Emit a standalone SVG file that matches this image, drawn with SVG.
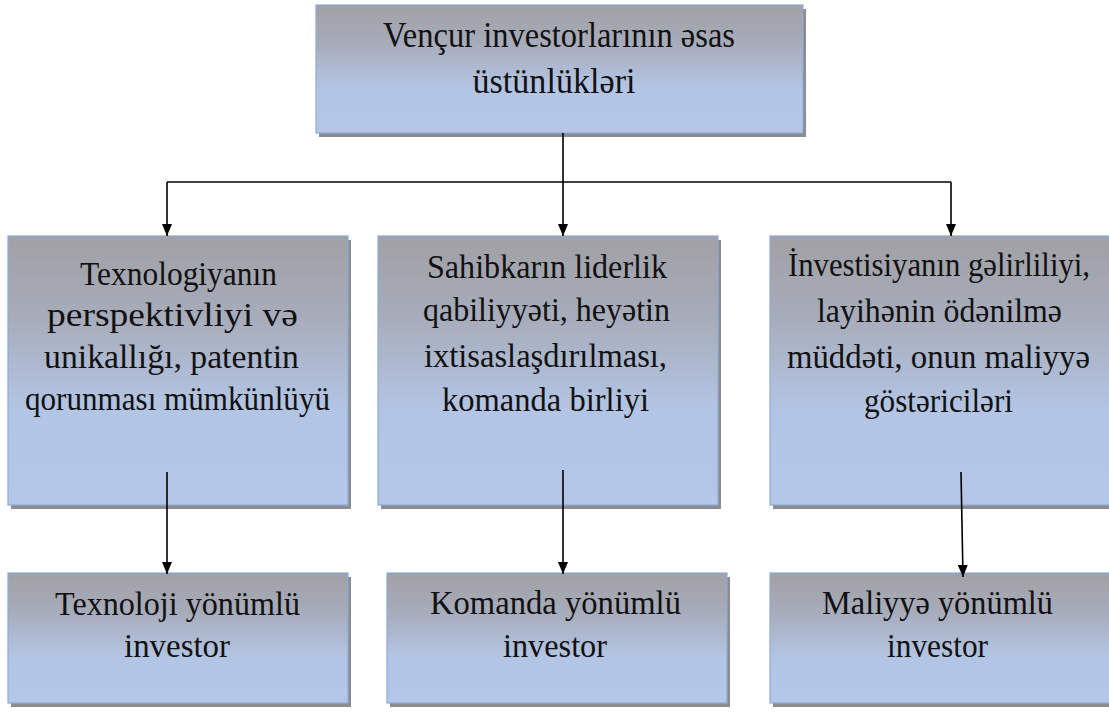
<svg xmlns="http://www.w3.org/2000/svg" width="1109" height="713" viewBox="0 0 1109 713" font-family="'Liberation Serif', 'DejaVu Serif', serif">
<defs>
<linearGradient id="g" x1="0" y1="0" x2="0" y2="1">
<stop offset="0" stop-color="#a1a0a5"/>
<stop offset="0.3" stop-color="#a7acba"/>
<stop offset="0.65" stop-color="#b3c5e4"/>
<stop offset="1" stop-color="#b4c7e7"/>
</linearGradient>
<marker id="ad" viewBox="0 0 12 10" refX="12" refY="5" markerWidth="12" markerHeight="10" markerUnits="userSpaceOnUse" orient="auto">
<path d="M0,0 L12,5 L0,10 Z" fill="#000"/>
</marker>
</defs>
<style>
.sh{fill:#8c8c8e}
.bx{fill:url(#g);stroke:#8eaadb;stroke-width:1.2}
text{font-family:'Liberation Serif','DejaVu Serif',serif;font-size:33px;fill:#111;text-anchor:middle}
.t{font-size:35px}
.c{fill:none;stroke:#000;stroke-width:1.6}
</style>
<rect width="1109" height="713" fill="#fff"/>

<g id="n-top">
<rect class="sh" x="319" y="9" width="487" height="128"/>
<rect class="bx" x="316" y="5" width="487" height="128"/>
<text class="t" x="559" y="47" textLength="352" lengthAdjust="spacingAndGlyphs">Vençur investorlarının əsas</text>
<text class="t" x="554" y="93" textLength="163" lengthAdjust="spacingAndGlyphs">üstünlükləri</text>
</g>

<g id="n-tech">
<rect class="sh" x="11" y="240" width="340" height="269"/>
<rect class="bx" x="8" y="236" width="340" height="269"/>
<text x="178.5" y="285" textLength="197" lengthAdjust="spacingAndGlyphs">Texnologiyanın</text>
<text x="172.5" y="326" textLength="251" lengthAdjust="spacingAndGlyphs">perspektivliyi və</text>
<text x="171.5" y="368" textLength="255" lengthAdjust="spacingAndGlyphs">unikallığı, patentin</text>
<text x="177.5" y="410" textLength="305" lengthAdjust="spacingAndGlyphs">qorunması mümkünlüyü</text>
</g>

<g id="n-team">
<rect class="sh" x="381" y="240" width="340" height="269"/>
<rect class="bx" x="378" y="236" width="340" height="269"/>
<text x="547" y="278" textLength="240" lengthAdjust="spacingAndGlyphs">Sahibkarın liderlik</text>
<text x="546.5" y="321" textLength="247" lengthAdjust="spacingAndGlyphs">qabiliyyəti, heyətin</text>
<text x="545.5" y="367" textLength="243" lengthAdjust="spacingAndGlyphs">ixtisaslaşdırılması,</text>
<text x="545.5" y="411" textLength="207" lengthAdjust="spacingAndGlyphs">komanda birliyi</text>
</g>

<g id="n-fin">
<rect class="sh" x="773" y="240" width="340" height="269"/>
<rect class="bx" x="770" y="236" width="340" height="269"/>
<text x="939" y="276" textLength="302" lengthAdjust="spacingAndGlyphs">İnvestisiyanın gəlirliliyi,</text>
<text x="939.5" y="322" textLength="245" lengthAdjust="spacingAndGlyphs">layihənin ödənilmə</text>
<text x="938.5" y="368" textLength="303" lengthAdjust="spacingAndGlyphs">müddəti, onun maliyyə</text>
<text x="938.5" y="412" textLength="149" lengthAdjust="spacingAndGlyphs">göstəriciləri</text>
</g>

<g id="n-tech-inv">
<rect class="sh" x="11" y="577" width="340" height="130"/>
<rect class="bx" x="8" y="573" width="340" height="130"/>
<text x="177.5" y="615" textLength="245" lengthAdjust="spacingAndGlyphs">Texnoloji yönümlü</text>
<text x="177" y="657" textLength="106" lengthAdjust="spacingAndGlyphs">investor</text>
</g>

<g id="n-team-inv">
<rect class="sh" x="390" y="577" width="340" height="130"/>
<rect class="bx" x="387" y="573" width="340" height="130"/>
<text x="555.5" y="614" textLength="251" lengthAdjust="spacingAndGlyphs">Komanda yönümlü</text>
<text x="555" y="657" textLength="104" lengthAdjust="spacingAndGlyphs">investor</text>
</g>

<g id="n-fin-inv">
<rect class="sh" x="773" y="577" width="340" height="130"/>
<rect class="bx" x="770" y="573" width="340" height="130"/>
<text x="937.5" y="614" textLength="231" lengthAdjust="spacingAndGlyphs">Maliyyə yönümlü</text>
<text x="937.5" y="657" textLength="101" lengthAdjust="spacingAndGlyphs">investor</text>
</g>

<g id="connectors">
<path class="c" d="M563,133 V182"/>
<path class="c" d="M167,182 H951"/>
<path class="c" d="M167,182 V236" marker-end="url(#ad)"/>
<path class="c" d="M563,182 V236" marker-end="url(#ad)"/>
<path class="c" d="M951,182 V236" marker-end="url(#ad)"/>
<path class="c" d="M167,472 V574" marker-end="url(#ad)"/>
<path class="c" d="M563,470 V574" marker-end="url(#ad)"/>
<path class="c" d="M961,472 L963,577" marker-end="url(#ad)"/>
</g>
</svg>
